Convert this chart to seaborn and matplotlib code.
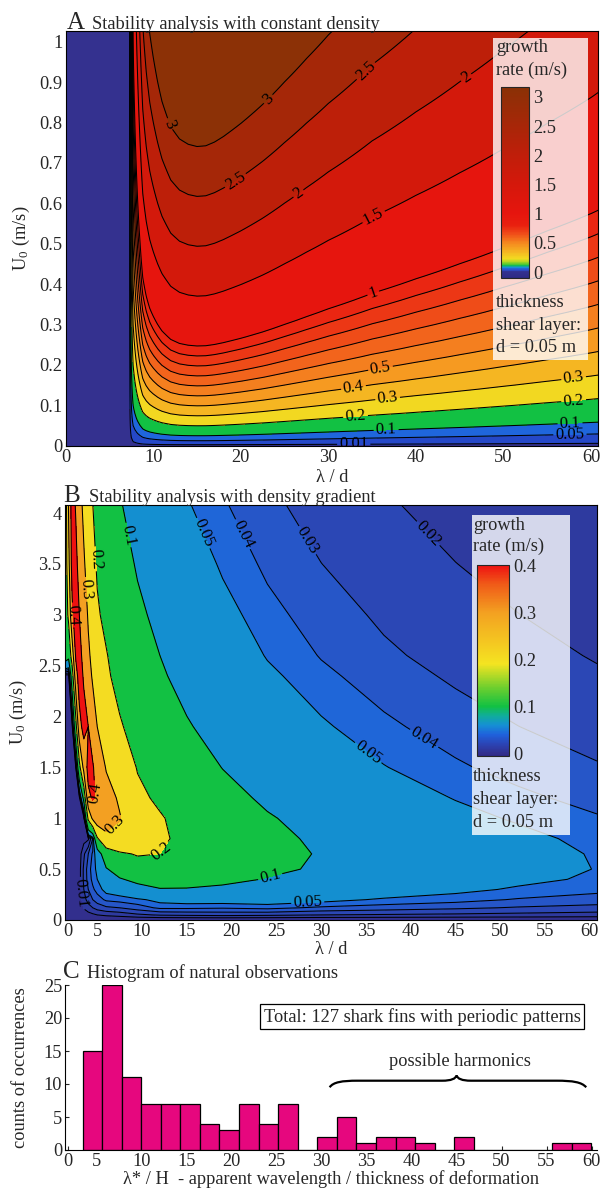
import numpy as np
import pandas as pd
import matplotlib
matplotlib.use("Agg")
import matplotlib.pyplot as plt
import seaborn as sns
from matplotlib.colors import LinearSegmentedColormap, Normalize
from matplotlib.cm import ScalarMappable
from matplotlib.patches import Rectangle, PathPatch
from matplotlib.path import Path
from matplotlib.ticker import FuncFormatter

# ---------------- data ----------------
# A: constant density - growth rate is proportional to U0, slope (1/s per m/s) along lambda/d
lam_a = [0, 7.3, 7.5, 7.7, 8.1, 8.5, 8.8, 9.2, 9.6, 10, 10.5, 11, 12, 13, 14, 15, 16,
         17, 18, 20, 22.5, 25, 27.5, 30, 35, 40, 45, 50, 55, 60, 61]
slope_a = [0, 0, 0.5, 1.0, 1.5, 2.0, 2.4, 2.7, 2.94, 3.12, 3.33, 3.52, 3.8, 3.95, 4.02,
           4.05, 4.04, 3.99, 3.92, 3.76, 3.55, 3.33, 3.13, 2.95, 2.65, 2.42, 2.22, 2.04,
           1.88, 1.74, 1.71]

# B: density gradient - growth rate table, one column per lambda/d value
lam_b = [1.4, 1.8, 2.2, 2.6, 3.0, 3.5, 4.0, 4.5, 5.0, 6.0, 7.5, 9.5, 12, 15, 19,
         24, 30, 37, 45, 52, 60.8]
u_b = [0, 0.05, 0.12, 0.2, 0.3, 0.4, 0.5, 0.65, 0.8, 1.0, 1.2, 1.5, 1.9, 2.4,
       2.6, 3.0, 3.5, 4.1]
rate_b_cols = [
    [0, 0, 0, 0, 0, 0, 0, 0, 0, 0, 0, 0, 0.001, 0.003, 0.14, 0.13, 0.13, 0.12],
    [0, 0, 0, 0, 0, 0, 0, 0, 0, 0, 0, 0.001, 0.002, 0.004, 0.12, 0.22, 0.27, 0.31],
    [0, 0, 0, 0, 0, 0, 0, 0, 0, 0.001, 0.002, 0.003, 0.004, 0.15, 0.25, 0.38, 0.44, 0.45],
    [0, 0, 0, 0, 0, 0, 0, 0, 0.001, 0.001, 0.002, 0.01, 0.16, 0.36, 0.41, 0.45, 0.43, 0.39],
    [0, 0, 0, 0.002, 0.004, 0.006, 0.006, 0.005, 0.003, 0.003, 0.004, 0.17, 0.37, 0.44, 0.43, 0.40, 0.36, 0.33],
    [0, 0.004, 0.011, 0.016, 0.02, 0.022, 0.022, 0.018, 0.006, 0.004, 0.12, 0.33, 0.43, 0.39, 0.37, 0.35, 0.31, 0.28],
    [0, 0.006, 0.016, 0.024, 0.03, 0.034, 0.035, 0.03, 0.008, 0.22, 0.38, 0.43, 0.40, 0.33, 0.315, 0.29, 0.265, 0.24],
    [0, 0.008, 0.02, 0.03, 0.038, 0.043, 0.045, 0.042, 0.03, 0.32, 0.41, 0.41, 0.34, 0.29, 0.275, 0.25, 0.225, 0.20],
    [0, 0.01, 0.024, 0.035, 0.044, 0.05, 0.053, 0.06, 0.19, 0.36, 0.39, 0.355, 0.30, 0.25, 0.24, 0.21, 0.19, 0.17],
    [0, 0.012, 0.028, 0.042, 0.055, 0.07, 0.095, 0.15, 0.28, 0.34, 0.33, 0.295, 0.26, 0.215, 0.205, 0.18, 0.155, 0.135],
    [0, 0.014, 0.03, 0.044, 0.06, 0.095, 0.13, 0.19, 0.27, 0.305, 0.29, 0.26, 0.21, 0.17, 0.16, 0.14, 0.122, 0.103],
    [0, 0.018, 0.035, 0.047, 0.08, 0.115, 0.17, 0.205, 0.235, 0.24, 0.22, 0.195, 0.163, 0.134, 0.125, 0.11, 0.095, 0.081],
    [0, 0.021, 0.042, 0.055, 0.095, 0.14, 0.17, 0.20, 0.215, 0.208, 0.184, 0.156, 0.13, 0.106, 0.10, 0.087, 0.075, 0.064],
    [0, 0.022, 0.042, 0.058, 0.095, 0.13, 0.155, 0.17, 0.175, 0.166, 0.148, 0.125, 0.104, 0.085, 0.08, 0.07, 0.06, 0.051],
    [0, 0.023, 0.041, 0.058, 0.092, 0.11, 0.126, 0.135, 0.138, 0.131, 0.116, 0.099, 0.082, 0.067, 0.062, 0.055, 0.048, 0.041],
    [0, 0.022, 0.043, 0.06, 0.083, 0.098, 0.108, 0.114, 0.112, 0.104, 0.092, 0.078, 0.065, 0.053, 0.049, 0.0435, 0.0377, 0.0321],
    [0, 0.02, 0.038, 0.055, 0.074, 0.088, 0.095, 0.097, 0.092, 0.083, 0.074, 0.0625, 0.052, 0.0426, 0.0393, 0.0348, 0.0301, 0.0257],
    [0, 0.019, 0.035, 0.048, 0.062, 0.072, 0.077, 0.077, 0.074, 0.0675, 0.0598, 0.0506, 0.0423, 0.0345, 0.0318, 0.0282, 0.0244, 0.0208],
    [0, 0.018, 0.032, 0.044, 0.054, 0.062, 0.065, 0.064, 0.061, 0.0555, 0.0492, 0.0416, 0.0348, 0.0284, 0.0262, 0.0232, 0.0201, 0.0171],
    [0, 0.017, 0.029, 0.039, 0.048, 0.054, 0.058, 0.058, 0.055, 0.048, 0.0425, 0.036, 0.0301, 0.0246, 0.0227, 0.0201, 0.0174, 0.0148],
    [0, 0.0156, 0.0268, 0.0352, 0.043, 0.0476, 0.0494, 0.0484, 0.0452, 0.041, 0.0363, 0.0308, 0.0257, 0.0209, 0.0194, 0.0171, 0.0148, 0.0126],
]

# C: histogram of natural observations (counts per bin)
counts_c = [15, 25, 11, 7, 7, 7, 4, 3, 7, 4, 7, 0, 2, 5, 1, 2, 2, 1, 0, 2, 0, 0, 0, 0, 1, 1]
bin_start_c = 3.45
bin_width_c = 2.173

# ---------------- styling ----------------
levels_a = [0.01, 0.05, 0.1, 0.2, 0.3, 0.4, 0.5, 0.6, 0.7, 0.8, 0.9, 1, 1.5, 2, 2.5, 3]
band_colors_a = ['#34318f', '#2548c8', '#1f66dc', '#12c143', '#f2d821', '#f5b622',
                 '#f69a21', '#f47f1f', '#f2641c', '#ef4c18', '#ec3715', '#ea2612',
                 '#e6150e', '#d3190b', '#bd1f09', '#a52708', '#8c3106']
levels_b = [0.01, 0.02, 0.03, 0.04, 0.05, 0.1, 0.2, 0.3, 0.4]
band_colors_b = ['#322f8d', '#2e3a9f', '#2b47b5', '#2656c8', '#1f66d8', '#148fd0',
                 '#12c143', '#f4dc22', '#f3a022', '#ee1111']

cbar_a_anchors = [(-0.1, '#2d2a85'), (0.0, '#34318f'), (0.04, '#2852d2'), (0.08, '#1a8fd6'),
                  (0.11, '#12c143'), (0.16, '#9ad324'), (0.22, '#f2dc21'), (0.35, '#f5b322'),
                  (0.5, '#f5861f'), (0.65, '#f04d19'), (0.8, '#e9200f'), (1.0, '#e6150e'),
                  (1.5, '#d5180b'), (2.0, '#c01e0a'), (2.5, '#a82608'), (3.17, '#8a3106')]
cbar_b_anchors = [(-0.005, '#2e2a88'), (0.0, '#322f8d'), (0.02, '#2b44b5'), (0.04, '#1f62dc'),
                  (0.06, '#1590d4'), (0.08, '#10ad9a'), (0.1, '#12c143'), (0.14, '#6ecf2e'),
                  (0.19, '#f4e421'), (0.3, '#f3a021'), (0.36, '#f05a18'), (0.4, '#ee1111')]

labels_a = {3: [(12.3, 0.8), (22.6, 0.87)], 2.5: [(18.7, 0.68), (34.2, 0.93)],
            2: [(26.4, 0.63), (45.8, 0.91)], 1.5: [(35.1, 0.57)], 1: [(35.1, 0.38)],
            0.5: [(36, 0.186)], 0.4: [(32.9, 0.14)], 0.3: [(36.8, 0.11), (58, 0.17)],
            0.2: [(33.1, 0.075), (58, 0.116)], 0.1: [(36.6, 0.041), (57.6, 0.058)],
            0.05: [(57.6, 0.02)], 0.01: [(32.9, 0.008)]}
labels_b = {0.1: [(8.2, 3.78), (24.3, 0.43)], 0.05: [(16.5, 3.79), (35.3, 1.65), (28.5, 0.18)],
            0.04: [(21.2, 3.79), (41.6, 1.8)], 0.03: [(28.4, 3.73)], 0.02: [(42.3, 3.83)],
            0.2: [(4.7, 3.55), (11.8, 0.69)], 0.3: [(3.6, 3.25), (7.3, 0.9)],
            0.4: [(2.6, 3.0), (4.6, 1.25)], 0.01: [(3.1, 0.26)]}

sns.set_theme(style="ticks")
plt.rcParams['font.family'] = ['Liberation Serif', 'DejaVu Serif']
plt.rcParams['mathtext.fontset'] = 'stix'
FS = 13.2
fmt_g = FuncFormatter(lambda v, p: f"{v:g}")


def make_cmap(anchors, name):
    lo, hi = anchors[0][0], anchors[-1][0]
    return LinearSegmentedColormap.from_list(
        name, [((v - lo) / (hi - lo), c) for v, c in anchors]), Normalize(lo, hi)


def legend_block(fig, ax, box, cax_rect, anchors, ticks, minor, text_x, top_ys, bottom_ys, name):
    ax.add_patch(Rectangle(box[:2], box[2], box[3], transform=ax.transAxes,
                           facecolor='white', alpha=0.8, edgecolor='none', zorder=6))
    cmap, norm = make_cmap(anchors, name)
    cax = fig.add_axes(cax_rect)
    cb = fig.colorbar(ScalarMappable(norm=norm, cmap=cmap), cax=cax, ticks=ticks)
    cb.outline.set_linewidth(0.8)
    cax.yaxis.set_major_formatter(fmt_g)
    cax.set_yticks(minor, minor=True)
    cax.tick_params(which='both', direction='in', length=4, width=0.7, labelsize=FS, pad=3)
    for y, s in zip(top_ys + bottom_ys, ["growth", "rate (m/s)", "thickness",
                                         "shear layer:", "d = 0.05 m"]):
        fig.text(text_x / 600, 1 - y / 1192, s, fontsize=FS, va='center', ha='left')


def contour_lines(ax, x, y, z, levels, spec):
    # one contour set per level so each label lands on its own line
    for lev in levels:
        cs = ax.contour(x, y, z, levels=[lev], colors='black', linewidths=0.75)
        if lev in spec:
            ax.clabel(cs, manual=spec[lev], fmt=lambda v: f"{v:g}", fontsize=12,
                      inline=True, inline_spacing=2)


fig = plt.figure(figsize=(6, 11.92), dpi=100)

# ---------------- A ----------------
axA = fig.add_axes([65.7 / 600, 1 - 445.7 / 1192, 532.3 / 600, 415 / 1192])
u_grid_a = np.linspace(0, 1.03, 104)
rate_a = np.outer(u_grid_a, slope_a)
axA.contourf(lam_a, u_grid_a, rate_a, levels=[0] + levels_a + [5], colors=band_colors_a)
contour_lines(axA, lam_a, u_grid_a, rate_a, levels_a, labels_a)
axA.set_xlim(0, 60.8)
axA.set_ylim(0, 1.0275)
axA.set_xticks(range(0, 61, 10))
axA.set_yticks(np.arange(0, 1.01, 0.1))
axA.yaxis.set_major_formatter(fmt_g)
axA.set_xlabel("λ / d", fontsize=FS)
axA.set_ylabel(r"U$_\mathregular{0}$ (m/s)", fontsize=FS)
axA.xaxis.set_label_coords(0.5, -0.056)
axA.yaxis.set_label_coords(-0.064, 0.5)
legend_block(fig, axA, (0.803, 0.2065, 0.178, 0.776),
             [501 / 600, 1 - 278 / 1192, 28 / 600, 191 / 1192],
             cbar_a_anchors, [0, 0.5, 1, 1.5, 2, 2.5, 3], [], 496,
             [48, 70], [302, 325, 348], "cmA")
fig.text(67 / 600, 1 - 29.3 / 1192, "A", fontsize=18, va='baseline')
fig.text(92 / 600, 1 - 29.3 / 1192, "Stability analysis with constant density",
         fontsize=FS, va='baseline')

# ---------------- B ----------------
axB = fig.add_axes([65 / 600, 1 - 920 / 1192, 532 / 600, 415 / 1192])
rate_b = np.array(rate_b_cols).T
axB.contourf(lam_b, u_b, rate_b, levels=[0] + levels_b + [1], colors=band_colors_b)
contour_lines(axB, lam_b, u_b, rate_b, levels_b, labels_b)
axB.set_xlim(1.4, 60.8)
axB.set_ylim(0, 4.08)
axB.set_xticks([1.75] + list(range(5, 61, 5)))
axB.set_xticklabels(["0"] + [str(v) for v in range(5, 61, 5)])
axB.set_yticks(np.arange(0, 4.01, 0.5))
axB.yaxis.set_major_formatter(fmt_g)
axB.set_xlabel("λ / d", fontsize=FS)
axB.set_ylabel(r"U$_\mathregular{0}$ (m/s)", fontsize=FS)
axB.xaxis.set_label_coords(0.5, -0.05)
axB.yaxis.set_label_coords(-0.067, 0.5)
legend_block(fig, axB, (0.7645, 0.2048, 0.1848, 0.771),
             [476.7 / 600, 1 - 756 / 1192, 32.6 / 600, 191 / 1192],
             cbar_b_anchors, [0, 0.1, 0.2, 0.3, 0.4], [0.05, 0.15, 0.25, 0.35], 473,
             [525, 546], [776.7, 800, 822.7], "cmB")
fig.text(63 / 600, 1 - 501.7 / 1192, "B", fontsize=18, va='baseline')
fig.text(89 / 600, 1 - 501.7 / 1192, "Stability analysis with density gradient",
         fontsize=FS, va='baseline')

for ax in (axA, axB):
    ax.tick_params(direction='in', length=3, width=0.8, labelsize=FS, pad=2.5)
    for s in ax.spines.values():
        s.set_linewidth(0.8)
        s.set_color('black')

# ---------------- C ----------------
axC = fig.add_axes([65 / 600, 1 - 1150 / 1192, 532 / 600, 165 / 1192])
n_bins = len(counts_c)
bin_centres = [bin_start_c + bin_width_c * (k + 0.5) for k in range(n_bins)]
hist_df = pd.DataFrame({"centre": bin_centres, "count": counts_c})
sns.histplot(data=hist_df, x="centre", weights="count", binwidth=bin_width_c,
             binrange=(bin_start_c, bin_start_c + bin_width_c * n_bins),
             color='#e6077e', edgecolor='black', linewidth=0.9, alpha=1, ax=axC)
axC.set_xlim(1.5, 60.6)
axC.set_ylim(0, 25)
axC.set_xticks([1.85] + list(range(5, 61, 5)))
axC.set_xticklabels(["0"] + [str(v) for v in range(5, 61, 5)])
axC.set_yticks(range(0, 26, 5))
axC.tick_params(direction='in', length=3, width=0.8, labelsize=FS, pad=2)
sns.despine(ax=axC)
for s in axC.spines.values():
    s.set_linewidth(0.8)
    s.set_color('black')
axC.set_xlabel("λ* / H  - apparent wavelength / thickness of deformation", fontsize=FS)
axC.set_ylabel("counts of occurrences", fontsize=FS)
axC.xaxis.set_label_coords(0.5, -0.125)
axC.yaxis.set_label_coords(-0.067, 0.5)
axC.text(41.2, 20.2, "Total: 127 shark fins with periodic patterns", ha='center',
         va='center', fontsize=FS,
         bbox=dict(boxstyle='square,pad=0.2', fc='white', ec='black', lw=0.9))
axC.text(45.4, 13.4, "possible harmonics", ha='center', va='center', fontsize=FS)
brace = Path([(30.9, 9.5), (31.3, 10.3), (32.3, 10.5), (34.0, 10.5), (43.4, 10.5),
              (44.4, 10.5), (44.9, 10.8), (45.0, 11.3), (45.1, 10.8), (45.6, 10.5),
              (46.6, 10.5), (56.1, 10.5), (57.9, 10.5), (58.9, 10.3), (59.4, 9.5)],
             [Path.MOVETO, Path.CURVE4, Path.CURVE4, Path.CURVE4, Path.LINETO,
              Path.CURVE4, Path.CURVE4, Path.CURVE4, Path.CURVE4, Path.CURVE4,
              Path.CURVE4, Path.LINETO, Path.CURVE4, Path.CURVE4, Path.CURVE4])
axC.add_patch(PathPatch(brace, fill=False, edgecolor='black', lw=1.6))
fig.text(63 / 600, 1 - 978.3 / 1192, "C", fontsize=18, va='baseline')
fig.text(87 / 600, 1 - 978.3 / 1192, "Histogram of natural observations",
         fontsize=FS, va='baseline')

fig.savefig("out.png", dpi=100)
